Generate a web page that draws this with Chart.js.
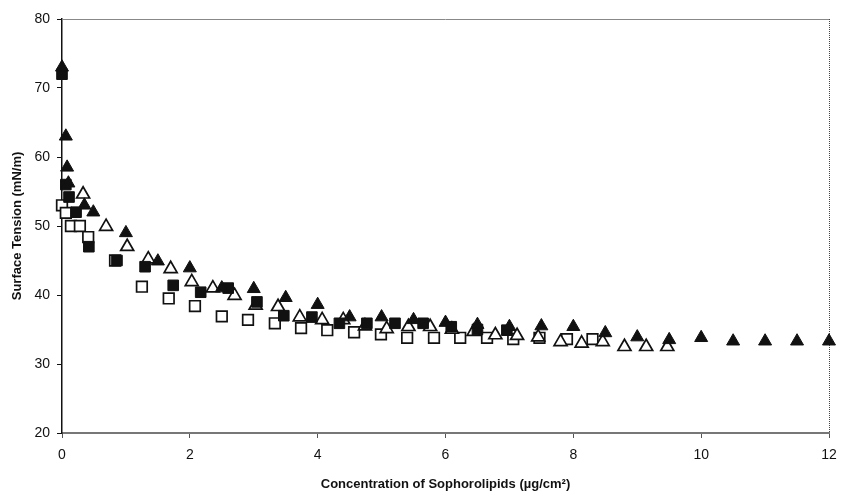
<!DOCTYPE html>
<html>
<head>
<meta charset="utf-8">
<script src="https://cdn.jsdelivr.net/npm/chart.js@4.4.0/dist/chart.umd.min.js"></script>
<style>
  html, body { margin: 0; padding: 0; background: #fff; }
  #wrap { width: 853px; height: 494px; }
</style>
</head>
<body>
<div id="wrap"><canvas id="tensionChart"></canvas></div>
<script>
// filled triangles
const triFilledX = [0, 0.06, 0.08, 0.1, 0.35, 0.49, 1.0, 1.5, 2.0, 2.5, 3.0, 3.5, 4.0, 4.5, 5.0, 5.5, 6.0, 6.5, 7.0, 7.5, 8.0, 8.5, 9.0, 9.5, 10.0, 10.5, 11.0, 11.5, 12.0];
const triFilledY = [73, 63, 58.5, 56.2, 53, 52, 49, 44.9, 43.9, 41, 40.9, 39.6, 38.6, 36.8, 36.8, 36.4, 36.0, 35.7, 35.4, 35.5, 35.4, 34.5, 33.9, 33.5, 33.8, 33.3, 33.3, 33.3, 33.3];

// filled squares
const sqFilledX = [0, 0.06, 0.11, 0.22, 0.42, 0.86, 1.3, 1.74, 2.17, 2.6, 3.05, 3.47, 3.91, 4.34, 4.77, 5.21, 5.65, 6.09, 6.5, 6.96];
const sqFilledY = [72, 56, 54.2, 52, 47, 45, 44.1, 41.4, 40.4, 41, 39, 37, 36.8, 35.9, 35.9, 35.9, 35.9, 35.4, 35.0, 34.9];

// open squares
const sqOpenX = [0, 0.06, 0.14, 0.28, 0.41, 0.83, 1.25, 1.67, 2.08, 2.5, 2.91, 3.33, 3.74, 4.15, 4.57, 4.99, 5.4, 5.82, 6.23, 6.65, 7.06, 7.47, 7.9, 8.3];
const sqOpenY = [53, 51.9, 50, 50, 48.4, 45, 41.2, 39.5, 38.4, 36.9, 36.4, 35.9, 35.2, 34.9, 34.6, 34.3, 33.8, 33.8, 33.8, 33.8, 33.6, 33.8, 33.6, 33.6];

// open triangles
const triOpenX = [0.33, 0.69, 1.02, 1.35, 1.7, 2.03, 2.36, 2.7, 3.03, 3.38, 3.72, 4.07, 4.4, 4.74, 5.08, 5.42, 5.76, 6.1, 6.44, 6.78, 7.12, 7.45, 7.8, 8.13, 8.46, 8.8, 9.14, 9.47];
const triOpenY = [54.6, 49.9, 47, 45.2, 43.8, 41.9, 41, 39.9, 38.5, 38.3, 36.8, 36.4, 36.4, 35.5, 35.1, 35.4, 35.4, 35.0, 34.7, 34.2, 34.1, 33.9, 33.2, 33.0, 33.2, 32.5, 32.5, 32.5];

const xTicks = [0, 2, 4, 6, 8, 10, 12];
const yTicks = [20, 30, 40, 50, 60, 70, 80];

function toPoints(xs, ys) {
    return xs.map((x, i) => ({ x: x, y: ys[i] }));
}

const frame = {
    id: 'frame',
    beforeDatasetsDraw(chart) {
        const { ctx, chartArea: a } = chart;
        ctx.save();
        ctx.strokeStyle = '#888';
        ctx.lineWidth = 1;
        ctx.beginPath();
        ctx.moveTo(a.left, a.top + 0.5);
        ctx.lineTo(a.right, a.top + 0.5);
        ctx.stroke();
        ctx.setLineDash([1, 1]);
        ctx.strokeStyle = '#444';
        ctx.beginPath();
        ctx.moveTo(a.right + 0.5, a.top);
        ctx.lineTo(a.right + 0.5, a.bottom);
        ctx.stroke();
        ctx.restore();
    }
};

const font = 'Liberation Sans, Arial, sans-serif';

new Chart(document.getElementById('tensionChart'), {
    type: 'scatter',
    data: {
        datasets: [
            {
                data: toPoints(triFilledX, triFilledY),
                pointStyle: 'triangle', pointRadius: 7.5,
                backgroundColor: '#111', borderColor: '#111', borderWidth: 1
            },
            {
                data: toPoints(sqFilledX, sqFilledY),
                pointStyle: 'rect', pointRadius: 7.5,
                backgroundColor: '#111', borderColor: '#111', borderWidth: 1
            },
            {
                data: toPoints(triOpenX, triOpenY),
                pointStyle: 'triangle', pointRadius: 7.5,
                backgroundColor: '#fff', borderColor: '#111', borderWidth: 1.7
            },
            {
                data: toPoints(sqOpenX, sqOpenY),
                pointStyle: 'rect', pointRadius: 7.5,
                backgroundColor: '#fff', borderColor: '#111', borderWidth: 1.7
            }
        ]
    },
    options: {
        responsive: true,
        maintainAspectRatio: false,
        animation: false,
        clip: false,
        layout: { padding: { left: 0, top: 19, right: 24, bottom: 0 } },
        plugins: {
            legend: { display: false },
            tooltip: { enabled: false }
        },
        scales: {
            x: {
                type: 'linear',
                min: 0, max: 12,
                afterFit: (scale) => { scale.height = 61; },
                afterBuildTicks: (scale) => { scale.ticks = xTicks.map(v => ({ value: v })); },
                border: { color: '#777', width: 2 },
                grid: { drawOnChartArea: false, tickLength: 5, color: '#555' },
                ticks: { color: '#111', padding: 9, font: { family: font, size: 14 } },
                title: {
                    display: true,
                    text: 'Concentration of Sophorolipids (µg/cm²)',
                    color: '#111',
                    padding: { top: 0, bottom: 2 },
                    font: { family: font, size: 13, weight: 'bold' }
                }
            },
            y: {
                type: 'linear',
                min: 20, max: 80,
                afterFit: (scale) => { scale.width = 62; },
                afterBuildTicks: (scale) => { scale.ticks = yTicks.map(v => ({ value: v })); },
                border: { color: '#111', width: 1.5 },
                grid: { drawOnChartArea: false, tickLength: 5, color: '#111' },
                ticks: { color: '#111', padding: 7, font: { family: font, size: 14 } },
                title: {
                    display: true,
                    text: 'Surface Tension (mN/m)',
                    color: '#111',
                    padding: { top: 10, bottom: 0 },
                    font: { family: font, size: 13, weight: 'bold' }
                }
            }
        }
    },
    plugins: [frame]
});
</script>
</body>
</html>
